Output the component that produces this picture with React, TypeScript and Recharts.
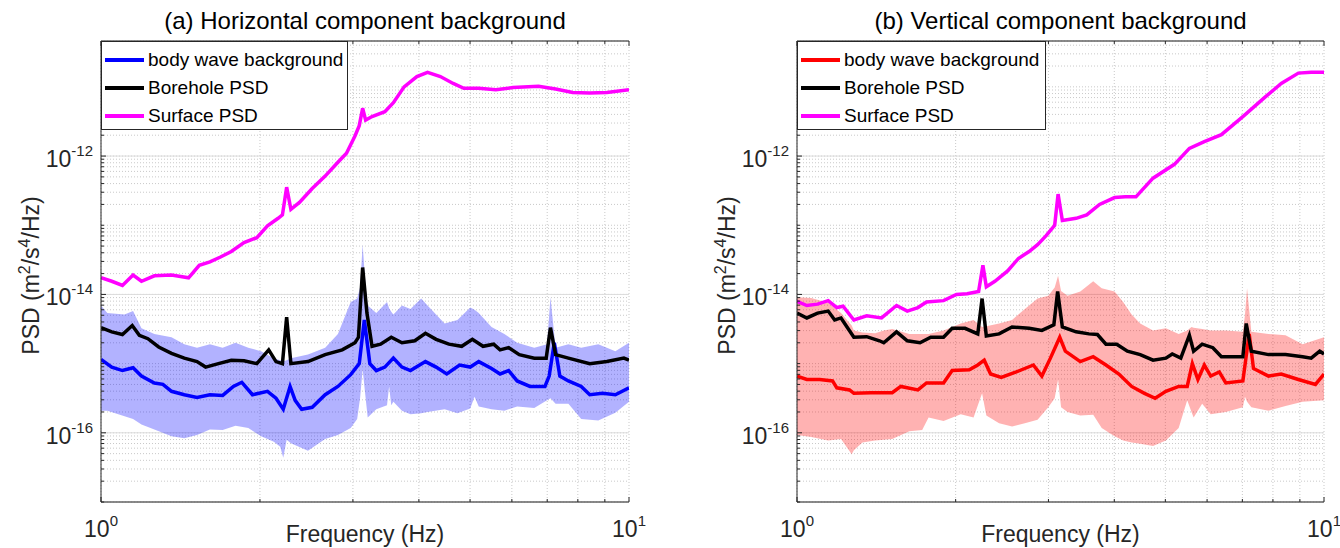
import React from 'react';
import { ComposedChart, Line, Area, XAxis, YAxis, CartesianGrid, Label } from 'recharts';

// ---------- (a) Horizontal component ----------
const H_BAND_FREQ = [1.000,1.028,1.108,1.150,1.193,1.262,1.360,1.438,1.520,1.608,1.700,1.798,1.901,2.010,2.125,2.185,2.214,2.247,2.289,2.466,2.658,2.810,2.971,3.056,3.095,3.130,3.171,3.200,3.322,3.481,3.513,3.546,3.579,3.715,3.856,4.040,4.154,4.475,4.732,5.004,5.098,5.193,5.491,5.807,6.140,6.616,6.995,7.100,7.261,7.678,8.119,8.747,9.422,10.0];
const H_BAND_LOW = [2.09e-16,2.09e-16,1.74e-16,1.58e-16,1.32e-16,1.12e-16,8.91e-17,8.32e-17,9.33e-17,1.12e-16,1.10e-16,1.26e-16,1.17e-16,8.91e-17,7.41e-17,6.31e-17,4.37e-17,7.94e-17,7.08e-17,5.50e-17,8.13e-17,9.33e-17,1.17e-16,1.58e-16,3.16e-16,8.32e-16,3.16e-16,1.66e-16,2.19e-16,2.51e-16,4.68e-16,2.51e-16,2.82e-16,2.09e-16,1.86e-16,1.91e-16,2.00e-16,2.19e-16,1.91e-16,2.24e-16,3.31e-16,2.40e-16,2.19e-16,2.09e-16,2.40e-16,2.29e-16,2.95e-16,3.16e-16,2.63e-16,2.63e-16,1.58e-16,1.51e-16,1.95e-16,2.82e-16];
const H_BAND_HIGH = [6.92e-15,5.37e-15,5.13e-15,5.75e-15,3.24e-15,2.69e-15,2.40e-15,1.91e-15,1.70e-15,1.91e-15,1.70e-15,2.00e-15,1.70e-15,1.51e-15,1.20e-15,1.12e-15,1.07e-15,1.12e-15,1.20e-15,1.35e-15,1.70e-15,2.69e-15,7.76e-15,8.71e-15,1.26e-14,5.25e-14,1.26e-14,6.92e-15,5.37e-15,7.76e-15,6.31e-15,5.62e-15,5.13e-15,6.92e-15,6.17e-15,8.71e-15,6.92e-15,3.80e-15,4.27e-15,6.46e-15,6.03e-15,5.37e-15,3.39e-15,2.69e-15,2.00e-15,1.70e-15,1.91e-15,9.12e-15,1.70e-15,1.91e-15,1.70e-15,1.91e-15,1.51e-15,2.00e-15];

const H_BODY_FREQ = [1.000,1.048,1.098,1.150,1.193,1.262,1.310,1.360,1.438,1.520,1.608,1.700,1.781,1.848,1.936,2.067,2.145,2.214,2.281,2.332,2.399,2.512,2.658,2.810,2.971,3.084,3.153,3.230,3.322,3.448,3.579,3.715,3.856,4.116,4.312,4.517,4.777,5.004,5.193,5.491,5.699,5.916,6.140,6.494,6.931,7.060,7.220,7.397,7.678,8.119,8.427,8.911,9.422,10.0];
const H_BODY_PSD = [1.15e-15,8.91e-16,7.94e-16,8.71e-16,6.61e-16,5.25e-16,5.01e-16,3.98e-16,3.55e-16,3.24e-16,3.55e-16,3.47e-16,4.68e-16,5.37e-16,3.55e-16,3.98e-16,3.16e-16,2.19e-16,4.68e-16,2.95e-16,2.19e-16,2.34e-16,3.55e-16,4.68e-16,6.92e-16,1.00e-15,4.27e-15,1.00e-15,7.94e-16,8.91e-16,1.20e-15,8.91e-16,7.94e-16,1.07e-15,8.91e-16,7.08e-16,9.55e-16,8.91e-16,1.07e-15,8.51e-16,7.08e-16,7.94e-16,5.62e-16,4.68e-16,4.68e-16,6.61e-16,2.00e-15,6.61e-16,5.62e-16,4.68e-16,3.55e-16,3.72e-16,3.55e-16,4.47e-16];

const H_BORE_FREQ = [1.000,1.048,1.098,1.146,1.182,1.227,1.286,1.360,1.438,1.520,1.578,1.669,1.765,1.866,1.973,2.078,2.145,2.206,2.247,2.289,2.466,2.658,2.863,3.027,3.073,3.130,3.189,3.261,3.385,3.546,3.715,3.929,4.116,4.312,4.559,4.821,5.051,5.291,5.542,5.699,5.916,6.197,6.616,6.969,7.100,7.261,7.678,8.427,9.079,9.779,10.0];
const H_BORE_PSD = [3.31e-15,2.88e-15,2.63e-15,3.55e-15,2.57e-15,2.29e-15,1.74e-15,1.41e-15,1.20e-15,1.07e-15,8.91e-16,1.00e-15,1.12e-15,1.10e-15,1.00e-15,1.58e-15,1.07e-15,1.00e-15,4.68e-15,1.00e-15,1.07e-15,1.35e-15,1.58e-15,2.00e-15,2.40e-15,2.45e-14,5.37e-15,1.78e-15,1.91e-15,2.40e-15,2.00e-15,2.14e-15,2.75e-15,2.24e-15,1.91e-15,1.78e-15,2.24e-15,1.78e-15,1.91e-15,1.58e-15,1.70e-15,1.35e-15,1.20e-15,1.20e-15,3.31e-15,1.35e-15,1.20e-15,1.00e-15,1.07e-15,1.20e-15,1.12e-15];

const H_SURF_FREQ = [1.000,1.048,1.098,1.150,1.193,1.262,1.360,1.465,1.535,1.608,1.684,1.765,1.866,1.973,2.067,2.165,2.206,2.247,2.289,2.376,2.512,2.658,2.810,2.917,3.027,3.084,3.130,3.171,3.261,3.448,3.579,3.750,3.965,4.154,4.393,4.645,4.866,5.193,5.594,6.027,6.740,7.261,7.822,8.427,9.079,10.0];
const H_SURF_PSD = [1.74e-14,1.55e-14,1.35e-14,1.91e-14,1.55e-14,1.86e-14,1.91e-14,1.74e-14,2.63e-14,2.95e-14,3.47e-14,4.17e-14,5.62e-14,6.61e-14,9.77e-14,1.26e-13,1.41e-13,3.55e-13,1.70e-13,2.14e-13,3.39e-13,5.13e-13,8.13e-13,1.10e-12,1.95e-12,2.75e-12,4.90e-12,3.31e-12,3.72e-12,4.37e-12,5.89e-12,1.00e-11,1.41e-11,1.62e-11,1.41e-11,1.12e-11,9.55e-12,9.55e-12,9.12e-12,9.77e-12,1.02e-11,9.33e-12,8.32e-12,8.13e-12,8.32e-12,9.12e-12];

// ---------- (b) Vertical component ----------
const V_BAND_FREQ = [1.000,1.064,1.146,1.212,1.270,1.282,1.331,1.407,1.461,1.516,1.634,1.728,1.777,1.897,2.045,2.163,2.245,2.287,2.418,2.559,2.706,2.861,2.998,3.083,3.129,3.170,3.261,3.448,3.648,3.786,4.005,4.158,4.315,4.480,4.738,5.011,5.300,5.501,5.605,5.657,5.872,6.096,6.511,7.015,7.079,7.145,7.280,7.846,8.453,9.108,10.0];
const V_BAND_LOW = [9.33e-17,8.71e-17,7.76e-17,8.13e-17,4.90e-17,5.62e-17,7.24e-17,7.76e-17,7.94e-17,8.13e-17,1.05e-16,1.10e-16,1.66e-16,1.48e-16,1.86e-16,1.66e-16,3.72e-16,1.78e-16,1.38e-16,1.23e-16,1.38e-16,1.55e-16,2.34e-16,3.16e-16,5.89e-16,2.34e-16,2.00e-16,1.78e-16,1.82e-16,1.17e-16,8.91e-17,7.76e-17,7.24e-17,6.92e-17,6.46e-17,7.76e-17,1.17e-16,2.95e-16,2.00e-16,1.66e-16,2.63e-16,1.86e-16,2.00e-16,2.34e-16,3.31e-16,2.82e-16,2.34e-16,2.09e-16,2.45e-16,2.82e-16,2.95e-16];
const V_BAND_HIGH = [9.12e-15,8.91e-15,7.59e-15,5.37e-15,3.55e-15,3.02e-15,2.82e-15,2.75e-15,3.02e-15,3.16e-15,2.69e-15,2.69e-15,2.69e-15,3.02e-15,3.80e-15,4.27e-15,3.39e-15,3.47e-15,3.80e-15,4.27e-15,6.17e-15,8.71e-15,9.55e-15,1.26e-14,1.86e-14,1.12e-14,9.55e-15,1.10e-14,1.55e-14,1.23e-14,1.10e-14,7.76e-15,5.13e-15,3.80e-15,3.02e-15,3.24e-15,2.69e-15,3.02e-15,3.39e-15,3.31e-15,3.16e-15,3.02e-15,3.02e-15,2.88e-15,5.01e-15,1.23e-14,2.88e-15,2.69e-15,2.57e-15,1.91e-15,2.40e-15];

const V_BODY_FREQ = [1.000,1.044,1.104,1.168,1.190,1.258,1.282,1.381,1.516,1.574,1.696,1.761,1.897,1.970,2.123,2.203,2.266,2.330,2.441,2.607,2.809,2.915,3.026,3.152,3.230,3.448,3.648,3.857,4.081,4.315,4.564,4.782,5.011,5.300,5.501,5.626,5.764,5.928,6.096,6.328,6.511,7.015,7.212,7.348,7.846,8.297,8.940,9.634,10.0];
const V_BODY_PSD = [6.61e-16,5.89e-16,5.89e-16,5.62e-16,4.47e-16,4.17e-16,3.72e-16,3.80e-16,3.80e-16,4.68e-16,4.17e-16,5.25e-16,5.25e-16,7.94e-16,8.13e-16,9.55e-16,1.12e-15,7.08e-16,6.31e-16,7.59e-16,9.55e-16,6.61e-16,1.20e-15,2.40e-15,1.51e-15,1.07e-15,1.26e-15,9.55e-16,7.08e-16,4.68e-16,3.72e-16,3.16e-16,3.98e-16,4.68e-16,4.68e-16,1.00e-15,5.89e-16,9.55e-16,6.61e-16,7.59e-16,5.25e-16,5.62e-16,2.69e-15,8.51e-16,6.61e-16,7.08e-16,5.89e-16,5.01e-16,7.08e-16];

const V_BORE_FREQ = [1.000,1.044,1.094,1.146,1.179,1.212,1.282,1.356,1.434,1.461,1.545,1.619,1.712,1.794,1.897,1.970,2.084,2.203,2.245,2.287,2.418,2.559,2.757,2.915,3.072,3.123,3.188,3.385,3.580,3.716,3.857,4.043,4.236,4.480,4.738,5.011,5.153,5.349,5.553,5.657,5.872,6.153,6.387,7.015,7.119,7.280,7.846,8.453,9.108,9.456,9.815,10.0];
const V_BORE_PSD = [5.37e-15,4.57e-15,5.37e-15,5.75e-15,4.27e-15,4.57e-15,2.40e-15,2.45e-15,2.14e-15,2.00e-15,2.88e-15,2.14e-15,2.00e-15,2.40e-15,2.40e-15,3.24e-15,3.24e-15,2.69e-15,8.71e-15,2.51e-15,2.69e-15,3.39e-15,3.24e-15,3.02e-15,3.63e-15,1.10e-14,3.39e-15,2.88e-15,2.69e-15,2.63e-15,1.91e-15,1.91e-15,1.51e-15,1.35e-15,1.12e-15,1.20e-15,1.38e-15,1.20e-15,2.57e-15,1.51e-15,1.91e-15,1.70e-15,1.26e-15,1.26e-15,3.80e-15,1.51e-15,1.35e-15,1.35e-15,1.26e-15,1.20e-15,1.51e-15,1.38e-15];

const V_SURF_FREQ = [1.000,1.044,1.094,1.146,1.190,1.223,1.282,1.356,1.447,1.545,1.619,1.696,1.761,1.897,2.007,2.103,2.211,2.253,2.287,2.374,2.510,2.631,2.757,2.861,2.970,3.083,3.129,3.188,3.385,3.546,3.751,4.005,4.197,4.397,4.738,5.202,5.553,5.928,6.387,7.015,7.700,8.297,8.940,9.456,10.0];
const V_SURF_PSD = [7.94e-15,6.92e-15,7.24e-15,8.13e-15,6.46e-15,6.76e-15,4.27e-15,4.90e-15,4.57e-15,6.92e-15,5.75e-15,6.46e-15,7.76e-15,8.13e-15,1.00e-14,1.02e-14,1.10e-14,2.63e-14,1.29e-14,1.55e-14,2.19e-14,3.31e-14,4.17e-14,5.25e-14,7.08e-14,1.00e-13,2.82e-13,1.17e-13,1.26e-13,1.41e-13,2.00e-13,2.51e-13,2.57e-13,2.57e-13,4.79e-13,7.59e-13,1.29e-12,1.62e-12,2.04e-12,3.72e-12,6.92e-12,1.12e-11,1.58e-11,1.62e-11,1.62e-11];

// ---------- axes ----------
const X_DOMAIN = [1, 10];
const X_TICKS = [1, 2, 3, 4, 5, 6, 7, 8, 9, 10];
const X_LABELED = [1, 10];
const Y_MIN = 1e-17;
const Y_MAX = 4.6e-11;
const Y_DECADES = [-17, -16, -15, -14, -13, -12, -11];
const Y_LABEL_EXPS = [-16, -14, -12];
const Y_MAJOR = [1e-16, 1e-14, 1e-12];
const Y_TICKS: number[] = [];
Y_DECADES.forEach((e) => {
  for (let k = 1; k <= 9; k++) {
    const v = k * Math.pow(10, e);
    if (v <= Y_MAX) Y_TICKS.push(v);
  }
});

const LEGEND_NAMES = ['body wave background', 'Borehole PSD', 'Surface PSD'];

const FONT = '"Liberation Sans", Arial, Helvetica, sans-serif';
const AXIS = '#262626';
const MINOR_GRID = '#c9c9c9';
const MAJOR_GRID = '#dcdcdc';
const LINE_W = 3.5;

const rows = (fs: number[], vs: number[]) => fs.map((f, i) => ({ f, v: vs[i] }));
const bandRows = (fs: number[], lo: number[], hi: number[]) =>
  fs.map((f, i) => ({ f, lo: lo[i], hi: hi[i] }));

const decompose = (v: number) => {
  const e = Math.floor(Math.log10(v) + 1e-9);
  const k = Math.round(v / Math.pow(10, e));
  return { e, k };
};

const LeftTick = (props: any) => {
  const { x, y, payload } = props;
  const { e, k } = decompose(payload.value);
  const labeled = k === 1 && Y_LABEL_EXPS.includes(e);
  return (
    <g>
      <line x1={x} x2={x + (labeled ? 5 : 3)} y1={y} y2={y} stroke={AXIS} strokeWidth={1} />
      {labeled && (
        <text x={x - 8} y={y + 11} textAnchor="end" fontSize={23} fill={AXIS} fontFamily={FONT}>
          10<tspan dy={-11} fontSize={15}>{String(e)}</tspan>
        </text>
      )}
    </g>
  );
};

const RightTick = (props: any) => {
  const { x, y, payload } = props;
  const { e, k } = decompose(payload.value);
  const labeled = k === 1 && Y_LABEL_EXPS.includes(e);
  return <line x1={x} x2={x - (labeled ? 5 : 3)} y1={y} y2={y} stroke={AXIS} strokeWidth={1} />;
};

const BottomTick = (props: any) => {
  const { x, y, payload } = props;
  const v = payload.value;
  const labeled = X_LABELED.includes(v);
  return (
    <g>
      <line x1={x} x2={x} y1={y} y2={y - (labeled ? 5 : 3)} stroke={AXIS} strokeWidth={1} />
      {labeled && (
        <text x={x} y={y + 35} textAnchor="middle" fontSize={23} fill={AXIS} fontFamily={FONT}>
          10<tspan dy={-11} fontSize={15}>{String(Math.round(Math.log10(v)))}</tspan>
        </text>
      )}
    </g>
  );
};

const TopTick = (props: any) => {
  const { x, y, payload } = props;
  const labeled = X_LABELED.includes(payload.value);
  return <line x1={x} x2={x} y1={y} y2={y + (labeled ? 5 : 3)} stroke={AXIS} strokeWidth={1} />;
};

type PanelProps = {
  left: number;
  plotLeft: number;
  plotRight: number;
  title: string;
  bodyColor: string;
  band: { f: number; lo: number; hi: number }[];
  body: { f: number; v: number }[];
  bore: { f: number; v: number }[];
  surf: { f: number; v: number }[];
  legendWidth: number;
};

function Panel(p: PanelProps) {
  const W = 670;
  const H = 548;
  const margin = { top: 40, right: W - p.plotRight - 1, bottom: 16, left: p.plotLeft - 60 };
  const colors = [p.bodyColor, '#000000', '#ff00ff'];
  return (
    <div style={{ position: 'absolute', left: p.left, top: 0, width: W, height: H }}>
      <ComposedChart width={W} height={H} margin={margin}>
        <CartesianGrid xAxisId="b" yAxisId="l" stroke={MINOR_GRID} strokeDasharray="1 2" />
        <CartesianGrid xAxisId="b" yAxisId="g" vertical={false} stroke={MAJOR_GRID} />
        <XAxis
          xAxisId="b"
          dataKey="f"
          type="number"
          scale="log"
          domain={X_DOMAIN}
          allowDataOverflow
          ticks={X_TICKS}
          interval={0}
          tickSize={0}
          tickMargin={0}
          tick={BottomTick}
          height={30}
          stroke={AXIS}
        >
          <Label
            content={(lp: any) => {
              const vb = lp.viewBox;
              return (
                <text x={vb.x + vb.width / 2} y={vb.y + 40} textAnchor="middle" fontSize={23} fill={AXIS} fontFamily={FONT}>
                  Frequency (Hz)
                </text>
              );
            }}
          />
        </XAxis>
        <XAxis
          xAxisId="t"
          orientation="top"
          dataKey="f"
          type="number"
          scale="log"
          domain={X_DOMAIN}
          allowDataOverflow
          ticks={X_TICKS}
          interval={0}
          tickSize={0}
          tickMargin={0}
          tick={TopTick}
          height={1}
          stroke={AXIS}
        >
          <Label
            content={(lp: any) => {
              const vb = lp.viewBox;
              return (
                <text x={vb.x + vb.width / 2} y={29} textAnchor="middle" fontSize={24} fill="#000" fontFamily={FONT}>
                  {p.title}
                </text>
              );
            }}
          />
        </XAxis>
        <YAxis
          yAxisId="l"
          type="number"
          scale="log"
          domain={[Y_MIN, Y_MAX]}
          allowDataOverflow
          ticks={Y_TICKS}
          interval={0}
          tickSize={0}
          tickMargin={0}
          tick={LeftTick}
          width={60}
          stroke={AXIS}
        >
          <Label
            content={(lp: any) => {
              const vb = lp.viewBox;
              const cx = vb.x + vb.width - 62;
              const cy = vb.y + vb.height / 2 + 4;
              return (
                <text x={cx} y={cy} transform={`rotate(-90 ${cx} ${cy})`} textAnchor="middle" fontSize={23} fill={AXIS} fontFamily={FONT}>
                  PSD (m<tspan dy={-9} fontSize={16}>2</tspan><tspan dy={9}>/s</tspan><tspan dy={-9} fontSize={16}>4</tspan><tspan dy={9}>/Hz)</tspan>
                </text>
              );
            }}
          />
        </YAxis>
        <YAxis
          yAxisId="r"
          orientation="right"
          type="number"
          scale="log"
          domain={[Y_MIN, Y_MAX]}
          allowDataOverflow
          ticks={Y_TICKS}
          interval={0}
          tickSize={0}
          tickMargin={0}
          tick={RightTick}
          width={1}
          stroke={AXIS}
        />
        <YAxis
          yAxisId="g"
          orientation="right"
          type="number"
          scale="log"
          domain={[Y_MIN, Y_MAX]}
          allowDataOverflow
          ticks={Y_MAJOR}
          interval={0}
          hide
        />
        <Area
          xAxisId="b"
          yAxisId="l"
          data={p.band}
          dataKey={(d: any) => [d.lo, d.hi]}
          type="linear"
          stroke="none"
          fill={p.bodyColor}
          fillOpacity={0.3}
          isAnimationActive={false}
        />
        <Line xAxisId="b" yAxisId="l" data={p.body} dataKey="v" type="linear" stroke={colors[0]} strokeWidth={LINE_W} dot={false} isAnimationActive={false} />
        <Line xAxisId="b" yAxisId="l" data={p.bore} dataKey="v" type="linear" stroke={colors[1]} strokeWidth={LINE_W} dot={false} isAnimationActive={false} />
        <Line xAxisId="b" yAxisId="l" data={p.surf} dataKey="v" type="linear" stroke={colors[2]} strokeWidth={LINE_W} dot={false} isAnimationActive={false} />
      </ComposedChart>
      <div
        style={{
          position: 'absolute',
          left: p.plotLeft,
          top: 41,
          width: p.legendWidth,
          height: 89,
          boxSizing: 'border-box',
          border: `1px solid ${AXIS}`,
          background: '#fff',
          fontFamily: FONT,
          fontSize: 19,
          color: '#000',
        }}
      >
        {LEGEND_NAMES.map((name, i) => (
          <div key={name} style={{ position: 'absolute', left: 0, top: 4 + i * 28, height: 28, width: '100%' }}>
            <div style={{ position: 'absolute', left: 3, top: 12, width: 39, height: 3.5, background: colors[i] }} />
            <div style={{ position: 'absolute', left: 46, top: 0, lineHeight: '28px', whiteSpace: 'nowrap' }}>{name}</div>
          </div>
        ))}
      </div>
    </div>
  );
}

export default function App() {
  return (
    <div style={{ position: 'absolute', left: 0, top: 0, width: 1340, height: 548, background: '#fff' }}>
      <Panel
        left={0}
        plotLeft={101}
        plotRight={629}
        title="(a) Horizontal component background"
        bodyColor="#0000ff"
        band={bandRows(H_BAND_FREQ, H_BAND_LOW, H_BAND_HIGH)}
        body={rows(H_BODY_FREQ, H_BODY_PSD)}
        bore={rows(H_BORE_FREQ, H_BORE_PSD)}
        surf={rows(H_SURF_FREQ, H_SURF_PSD)}
        legendWidth={247}
      />
      <Panel
        left={670}
        plotLeft={127}
        plotRight={654}
        title="(b) Vertical component background"
        bodyColor="#ff0000"
        band={bandRows(V_BAND_FREQ, V_BAND_LOW, V_BAND_HIGH)}
        body={rows(V_BODY_FREQ, V_BODY_PSD)}
        bore={rows(V_BORE_FREQ, V_BORE_PSD)}
        surf={rows(V_SURF_FREQ, V_SURF_PSD)}
        legendWidth={249}
      />
    </div>
  );
}
